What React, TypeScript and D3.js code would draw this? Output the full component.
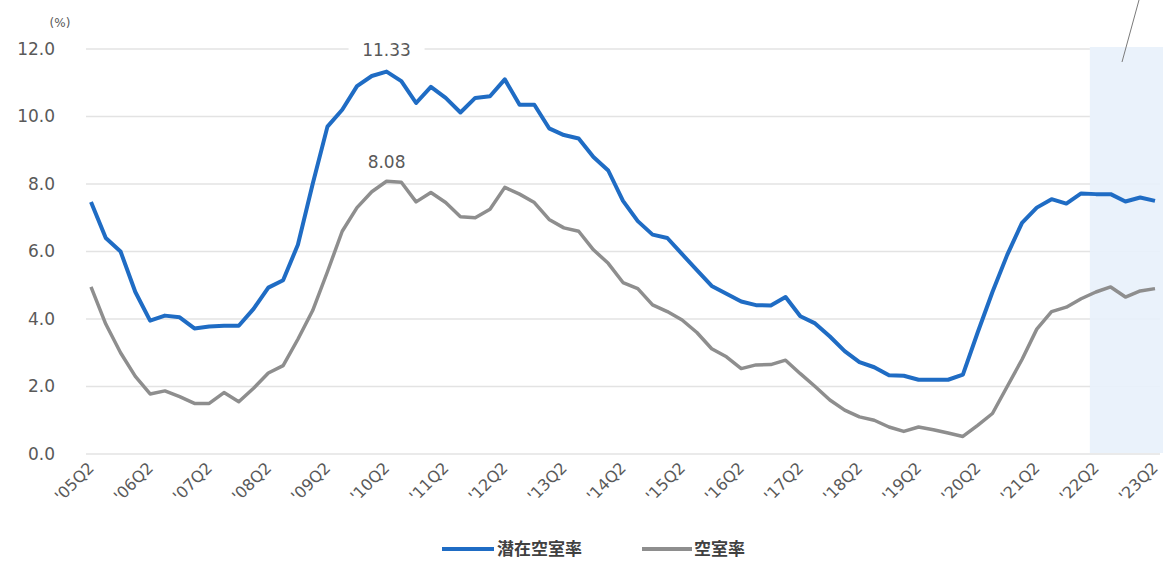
import React from "react";
import * as d3 from "d3";

const tickLabels = ["'05Q2","'06Q2","'07Q2","'08Q2","'09Q2","'10Q2","'11Q2","'12Q2","'13Q2","'14Q2","'15Q2","'16Q2","'17Q2","'18Q2","'19Q2","'20Q2","'21Q2","'22Q2","'23Q2"];

// quarterly, '05Q2 .. '23Q2 (73 points)
const potentialVacancy = [
  7.47, 6.4, 6.0, 4.8, 3.95, 4.1, 4.05, 3.72, 3.78, 3.8, 3.8, 4.3, 4.93, 5.15, 6.2, 8.0,
  9.7, 10.2, 10.9, 11.2, 11.33, 11.05, 10.4, 10.88, 10.55, 10.12, 10.55, 10.6, 11.1, 10.35, 10.35, 9.65,
  9.45, 9.35, 8.8, 8.4, 7.5, 6.9, 6.5, 6.4, 5.92, 5.45, 4.98, 4.75, 4.52, 4.41, 4.4, 4.65,
  4.08, 3.87, 3.48, 3.05, 2.72, 2.57, 2.33, 2.32, 2.2, 2.2, 2.2, 2.35, 3.6, 4.8, 5.9, 6.85,
  7.3, 7.55, 7.42, 7.72, 7.7, 7.7, 7.48, 7.6, 7.5,
];
const vacancy = [
  4.95, 3.85, 3.0, 2.3, 1.78, 1.87, 1.7, 1.5, 1.5, 1.82, 1.55, 1.95, 2.4, 2.62, 3.4, 4.25,
  5.4, 6.6, 7.3, 7.77, 8.08, 8.05, 7.47, 7.75, 7.45, 7.03, 7.0, 7.25, 7.9, 7.7, 7.45, 6.95,
  6.7, 6.6, 6.05, 5.65, 5.08, 4.9, 4.42, 4.22, 3.97, 3.6, 3.12, 2.88, 2.53, 2.64, 2.65, 2.78,
  2.38, 2.0, 1.6, 1.3, 1.1, 1.0, 0.8, 0.67, 0.8, 0.72, 0.62, 0.52, 0.85, 1.2, 2.0, 2.8,
  3.7, 4.22, 4.35, 4.6, 4.8, 4.95, 4.65, 4.83, 4.9,
];
const yTicks = [0, 2, 4, 6, 8, 10, 12];
const seriesNames = ["潜在空室率", "空室率"];
const peakLabels = ["11.33", "8.08"];
const shadeFromIndex = 68; // shaded band start ('22Q2 area)

const W = 1163;
const H = 562;
const numFont = "'DejaVu Sans', sans-serif";
const cjkFont = "'Noto Sans CJK JP', sans-serif";

export default function App() {
  const n = potentialVacancy.length;
  const x = d3.scaleLinear().domain([0, n - 1]).range([91, 1155]);
  const y = d3.scaleLinear().domain([0, 12]).range([454, 49]);
  const line = d3
    .line<number>()
    .x((_, i) => x(i))
    .y((d) => y(d));

  const blue = "#1f6cc4";
  const gray = "#8e8e8e";
  const textCol = "#595959";

  const iBlue = potentialVacancy.indexOf(d3.max(potentialVacancy)!);
  const iGray = vacancy.indexOf(d3.max(vacancy)!);
  const shadeX = x(shadeFromIndex) - 6;
  const legendY = 549;

  return (
    <svg
      width={W}
      height={H}
      style={{ position: "absolute", left: 0, top: 0, background: "#fff" }}
    >
      {/* gridlines */}
      {yTicks.map((t) => (
        <line
          key={t}
          x1={86}
          x2={t >= 10 ? shadeX : 1160}
          y1={y(t)}
          y2={y(t)}
          stroke="#e3e3e3"
          strokeWidth={1.5}
        />
      ))}
      {/* shaded band */}
      <rect
        x={shadeX}
        y={y(12) - 2}
        width={W - shadeX}
        height={y(0) - y(12) + 1}
        fill="#e8f1fb"
        opacity={0.9}
      />
      {/* pointer line */}
      <line x1={1139} y1={0} x2={1122} y2={62} stroke="#7a7a7a" strokeWidth={1} />

      {/* y tick labels */}
      {yTicks.map((t) => (
        <text
          key={t}
          x={55}
          y={y(t)}
          dy="0.35em"
          textAnchor="end"
          fontFamily={numFont}
          fontSize={17}
          fill={textCol}
        >
          {t.toFixed(1)}
        </text>
      ))}
      <text x={60} y={27} textAnchor="middle" fontFamily={numFont} fontSize={12} fill={textCol}>
        (%)
      </text>

      {/* x tick labels */}
      {tickLabels.map((lab, k) => (
        <text
          key={lab}
          transform={`translate(${x(k * 4) + 4},${469}) rotate(-45)`}
          textAnchor="end"
          fontFamily={numFont}
          fontSize={16}
          fill={textCol}
        >
          {lab}
        </text>
      ))}

      {/* series */}
      <path d={line(vacancy) || ""} fill="none" stroke={gray} strokeWidth={3.5} strokeLinejoin="round" />
      <path d={line(potentialVacancy) || ""} fill="none" stroke={blue} strokeWidth={4} strokeLinejoin="round" />

      {/* peak labels */}
      <rect x={x(iBlue) - 38} y={y(12) - 3} width={76} height={6} fill="#fff" />
      <text x={x(iBlue)} y={56} textAnchor="middle" fontFamily={numFont} fontSize={17} fill={textCol}>
        {peakLabels[0]}
      </text>
      <text x={x(iGray)} y={168} textAnchor="middle" fontFamily={numFont} fontSize={17} fill={textCol}>
        {peakLabels[1]}
      </text>

      {/* legend */}
      <line x1={442} x2={494} y1={legendY} y2={legendY} stroke={blue} strokeWidth={4} />
      <text x={497} y={legendY} dy="0.36em" fontFamily={cjkFont} fontWeight="bold" fontSize={17} fill="#404040">
        {seriesNames[0]}
      </text>
      <line x1={642} x2={692} y1={legendY} y2={legendY} stroke={gray} strokeWidth={4} />
      <text x={694} y={legendY} dy="0.36em" fontFamily={cjkFont} fontWeight="bold" fontSize={17} fill="#404040">
        {seriesNames[1]}
      </text>
    </svg>
  );
}
